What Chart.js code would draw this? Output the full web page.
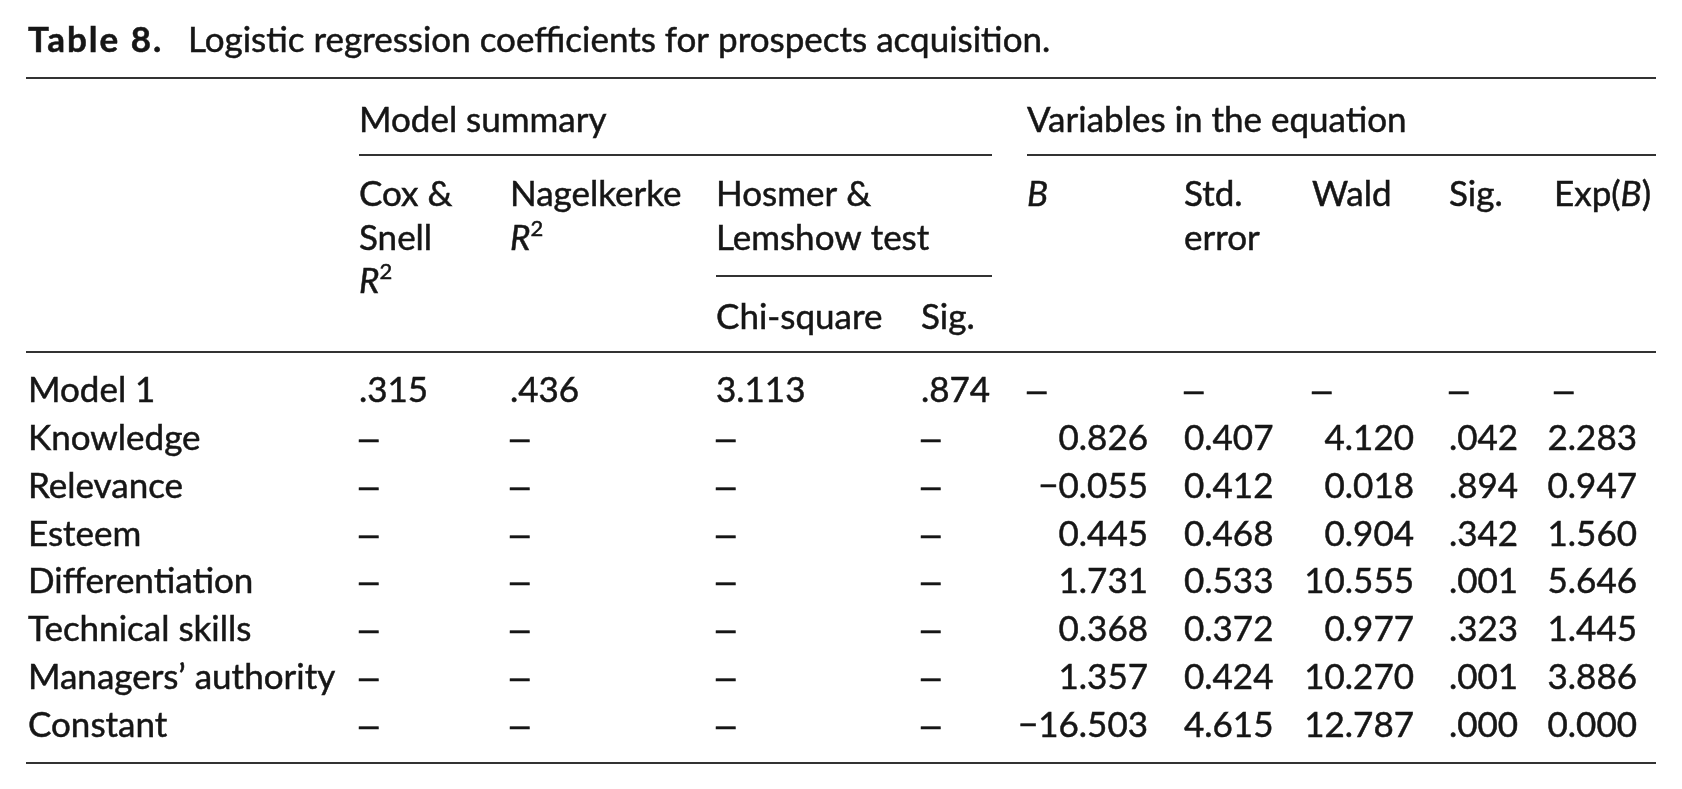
<!DOCTYPE html>
<html>
<head>
<meta charset="utf-8">
<script src="https://cdn.jsdelivr.net/npm/chart.js@4/dist/chart.umd.min.js"></script>
<style>
  html, body { margin: 0; padding: 0; background: #fff; }
  #wrap { width: 1682px; height: 789px; position: relative; }
</style>
</head>
<body>
<div id="wrap"><canvas id="tbl"></canvas></div>
<script>
// ---- table data ----
const rows = ['Model 1', 'Knowledge', 'Relevance', 'Esteem', 'Differentiation', 'Technical skills', 'Managers\u2019 authority', 'Constant'];
const coxSnell = [0.315, null, null, null, null, null, null, null];
const nagelkerke = [0.436, null, null, null, null, null, null, null];
const chiSquare = [3.113, null, null, null, null, null, null, null];
const hlSig = [0.874, null, null, null, null, null, null, null];
const coefB = [null, 0.826, -0.055, 0.445, 1.731, 0.368, 1.357, -16.503];
const stdError = [null, 0.407, 0.412, 0.468, 0.533, 0.372, 0.424, 4.615];
const wald = [null, 4.120, 0.018, 0.904, 10.555, 0.977, 10.270, 12.787];
const sig = [null, 0.042, 0.894, 0.342, 0.001, 0.323, 0.001, 0.000];
const expB = [null, 2.283, 0.947, 1.560, 5.646, 1.445, 3.886, 0.000];

// ---- layout (table units = px from the left end of the rules) ----
const FONT = 'Lato, "Open Sans", sans-serif';
const DASH_FONT = '"Liberation Sans", Arial, sans-serif';
const INK = '#161616';
const RULE = '#333';
const TABLE_W = 1630;
const SIZE = 35;

// left edge of each column, right edge for right-aligned numbers
const cols = [
  { key: 'cox',   values: coxSnell,   left: 333,  fmt: 'noLead' },
  { key: 'nagel', values: nagelkerke, left: 484,  fmt: 'noLead' },
  { key: 'chi',   values: chiSquare,  left: 690,  fmt: 'plain' },
  { key: 'hlSig', values: hlSig,      left: 895,  fmt: 'noLead' },
  { key: 'b',     values: coefB,      left: 1001, right: 1122, fmt: 'plain' },
  { key: 'se',    values: stdError,   left: 1158, fmt: 'plain' },
  { key: 'wald',  values: wald,       left: 1286, right: 1388, fmt: 'plain' },
  { key: 'sig',   values: sig,        left: 1423, fmt: 'noLead' },
  { key: 'exp',   values: expB,       left: 1528, right: 1611, fmt: 'plain' },
];
const colLeft = Object.fromEntries(cols.map(c => [c.key, c.left]));

const DASH = '\u2013';
const fmtValue = (v, fmt) => {
  if (v === null) return DASH;
  let s = Math.abs(v).toFixed(3);
  if (fmt === 'noLead') s = s.replace(/^0/, '');
  return (v < 0 ? '\u2212' : '') + s;
};

// body datasets: stub column + one dataset per value column
const datasets = [{
  label: 'stub',
  data: rows.map(r => ({ x: 2, y: r, text: r, align: 'left' })),
}].concat(cols.map(c => ({
  label: c.key,
  data: rows.map((r, i) => {
    const v = c.values[i];
    const right = v !== null && c.right !== undefined;
    return { x: right ? c.right : c.left, y: r, text: fmtValue(v, c.fmt), align: right ? 'right' : 'left' };
  }),
})));

// slightly heavier text, closer to the printed face
function ink(ctx, t, x, y) {
  ctx.fillText(t, x, y);
  ctx.strokeText(t, x, y);
}

// draws a run of text pieces: [text, style] with style 'r' regular, 'i' italic, 'b' bold, 'sup' superscript
function drawRuns(ctx, x, y, runs, size) {
  runs.forEach(([t, st]) => {
    let font = `${size}px ${FONT}`, dy = 0;
    ctx.letterSpacing = '0px';
    if (st === 'i') font = `italic ${size}px ${FONT}`;
    if (st === 'b') { font = `bold ${size}px ${FONT}`; ctx.letterSpacing = '2px'; }
    if (st === 'sup') { font = `${Math.round(size * 0.62)}px ${FONT}`; dy = -size * 0.4; }
    ctx.font = font;
    ink(ctx, t, x, y + dy);
    x += ctx.measureText(t).width;
  });
  ctx.letterSpacing = '0px';
}

const tablePlugin = {
  id: 'tablePlugin',
  afterDatasetsDraw(chart) {
    const { ctx, chartArea, scales: { x } } = chart;
    const px = u => x.getPixelForValue(u);
    ctx.save();
    ctx.fillStyle = INK;
    ctx.strokeStyle = INK;
    ctx.lineWidth = 0.5;
    ctx.textBaseline = 'alphabetic';

    // body cells, positioned by the scales
    chart.data.datasets.forEach((ds, d) => {
      const meta = chart.getDatasetMeta(d);
      meta.data.forEach((el, i) => {
        const cell = ds.data[i];
        ctx.font = cell.text === DASH ? `${SIZE}px ${DASH_FONT}` : `${SIZE}px ${FONT}`;
        ctx.textAlign = cell.align;
        ink(ctx, cell.text, el.x, el.y + 12);
      });
    });

    ctx.textAlign = 'left';
    // title
    drawRuns(ctx, px(2), 52, [['Table 8.', 'b']], SIZE);
    drawRuns(ctx, px(162), 52, [['Logistic regression coefficients for prospects acquisition.', 'r']], SIZE);

    // header texts
    const S = SIZE;
    drawRuns(ctx, px(colLeft.cox), 132, [['Model summary', 'r']], S);
    drawRuns(ctx, px(colLeft.b), 132, [['Variables in the equation', 'r']], S);
    drawRuns(ctx, px(colLeft.cox), 206, [['Cox &', 'r']], S);
    drawRuns(ctx, px(colLeft.cox), 250, [['Snell', 'r']], S);
    drawRuns(ctx, px(colLeft.cox), 293, [['R', 'i'], ['2', 'sup']], S);
    drawRuns(ctx, px(colLeft.nagel), 206, [['Nagelkerke', 'r']], S);
    drawRuns(ctx, px(colLeft.nagel), 250, [['R', 'i'], ['2', 'sup']], S);
    drawRuns(ctx, px(colLeft.chi), 206, [['Hosmer &', 'r']], S);
    drawRuns(ctx, px(colLeft.chi), 250, [['Lemshow test', 'r']], S);
    drawRuns(ctx, px(colLeft.chi), 329, [['Chi-square', 'r']], S);
    drawRuns(ctx, px(colLeft.hlSig), 329, [['Sig.', 'r']], S);
    drawRuns(ctx, px(colLeft.b), 206, [['B', 'i']], S);
    drawRuns(ctx, px(colLeft.se), 206, [['Std.', 'r']], S);
    drawRuns(ctx, px(colLeft.se), 250, [['error', 'r']], S);
    drawRuns(ctx, px(colLeft.wald), 206, [['Wald', 'r']], S);
    drawRuns(ctx, px(colLeft.sig), 206, [['Sig.', 'r']], S);
    drawRuns(ctx, px(colLeft.exp), 206, [['Exp(', 'r'], ['B', 'i'], [')', 'r']], S);

    // rules
    ctx.strokeStyle = RULE;
    ctx.lineWidth = 2;
    const rule = (u0, u1, y) => {
      ctx.beginPath();
      ctx.moveTo(px(u0), y);
      ctx.lineTo(px(u1), y);
      ctx.stroke();
    };
    rule(0, TABLE_W, 78);
    rule(colLeft.cox, 966, 155);
    rule(colLeft.b, TABLE_W, 155);
    rule(colLeft.chi, 966, 276);
    rule(0, TABLE_W, chartArea.top - 14);
    rule(0, TABLE_W, chartArea.bottom + 14);
    ctx.restore();
  }
};

new Chart(document.getElementById('tbl'), {
  type: 'scatter',
  data: { datasets },
  options: {
    responsive: true,
    maintainAspectRatio: false,
    animation: false,
    events: [],
    layout: { padding: { left: 26, right: 26, top: 366, bottom: 40 } },
    elements: { point: { radius: 0 } },
    plugins: { legend: { display: false }, tooltip: { enabled: false } },
    scales: {
      x: { type: 'linear', min: 0, max: TABLE_W, display: false },
      y: { type: 'category', labels: rows, offset: true, display: false },
    },
  },
  plugins: [tablePlugin],
});
</script>
</body>
</html>
